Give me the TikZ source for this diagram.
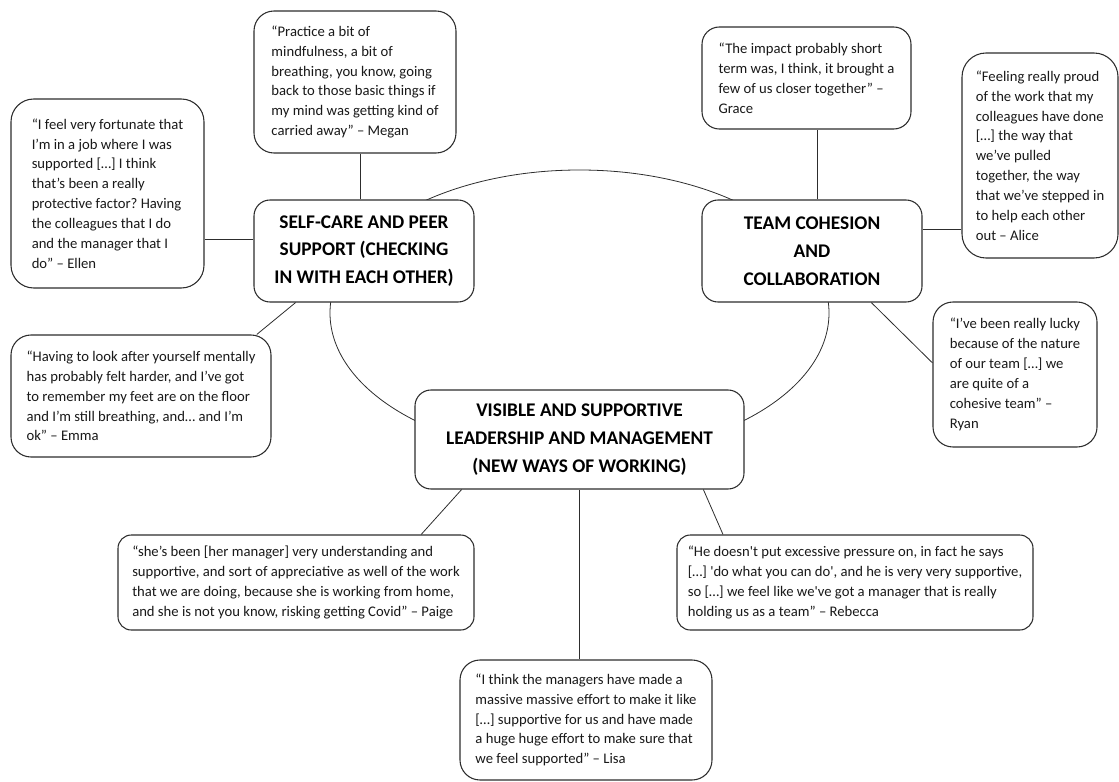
\documentclass[tikz,border=0pt]{standalone}
\usepackage{fontspec}
\setmainfont{Carlito}
\usepackage{tikz}
\usetikzlibrary{shapes.geometric,positioning}
\definecolor{boxLine}{RGB}{45,45,45}
\definecolor{quoteText}{RGB}{25,25,25}
\frenchspacing

\begin{document}
\begin{tikzpicture}[
    every node/.style={font=\fontsize{11}{14.9}\selectfont},
    quote/.style={rectangle, rounded corners=15pt, draw=boxLine, line width=0.8pt,
        fill=white, align=left, inner sep=0pt, text=quoteText},
    theme/.style={rectangle, rounded corners=12pt, draw=boxLine, line width=0.8pt,
        fill=white, align=center, inner sep=0pt, font=\fontsize{14.5}{20.8}\selectfont\bfseries},
    link/.style={draw=boxLine, line width=0.6pt},
    x=0.75pt, y=-0.75pt,
    ]
    \useasboundingbox (0,0) rectangle (1119,781);
    % ring behind the three themes
    \node[draw=boxLine, line width=0.6pt, ellipse, inner sep=0pt, minimum width=374.25pt,
        minimum height=214.5pt] (ring) at (579.5,313) {};
    % Themes
    \node[theme, minimum width=165pt, minimum height=76.5pt] (sc) at (364,251)
        {SELF-CARE AND PEER\\SUPPORT (CHECKING\\IN WITH EACH OTHER)};
    \node[theme, minimum width=165pt, minimum height=76.5pt] (tc) at (812,251)
        {TEAM COHESION\\AND\\COLLABORATION};
    \node[theme, minimum width=246.75pt, minimum height=74.25pt] (lm) at (579.5,439.5)
        {VISIBLE AND SUPPORTIVE\\LEADERSHIP AND MANAGEMENT\\(NEW WAYS OF WORKING)};
    % Quotes, self-care
    \node[quote, minimum width=151.5pt, minimum height=106.5pt] (megan) at (355,82)
        {“Practice a bit of\\mindfulness, a bit of\\breathing, you know, going\\back to those basic things if\\my mind was getting kind of\\carried away” – Megan};
    \node[quote, rounded corners=17pt, minimum width=144.75pt, minimum height=141.75pt] (ellen) at (107.5,193.5)
        {“I feel very fortunate that\\I’m in a job where I was\\supported […] I think\\that’s been a really\\protective factor? Having\\the colleagues that I do\\and the manager that I\\do” – Ellen};
    \node[quote, minimum width=195pt, minimum height=91.5pt] (emma) at (141,396)
        {“Having to look after yourself mentally\\has probably felt harder, and I’ve got\\to remember my feet are on the floor\\and I’m still breathing, and… and I’m\\ok” – Emma};
    % Quotes, team
    \node[quote, rounded corners=13pt, minimum width=156.75pt, minimum height=76.5pt] (grace) at (806.5,78)
        {“The impact probably short\\term was, I think, it brought a\\few of us closer together” –\\Grace};
    \node[quote, rounded corners=18pt, minimum width=117pt, minimum height=153.75pt] (alice) at (1040,155.5)
        {“Feeling really proud\\of the work that my\\colleagues have done\\{}[…] the way that\\we’ve pulled\\together, the way\\that we’ve stepped in\\to help each other\\out – Alice};
    \node[quote, minimum width=123pt, minimum height=108.75pt] (ryan) at (1015,374.5)
        {“I’ve been really lucky\\because of the nature\\of our team […] we\\are quite of a\\cohesive team” –\\Ryan};
    % Quotes, leadership
    \node[quote, rounded corners=10pt, minimum width=267pt, minimum height=71.25pt] (paige) at (296,582.5)
        {“she’s been [her manager] very understanding and\\supportive, and sort of appreciative as well of the work\\that we are doing, because she is working from home,\\and she is not you know, risking getting Covid” – Paige};
    \node[quote, rounded corners=10pt, minimum width=267pt, minimum height=71.25pt] (rebecca) at (855,582.5)
        {“He doesn\textquotesingle t put excessive pressure on, in fact he says\\{}[…] \textquotesingle do what you can do\textquotesingle, and he is very very supportive,\\so […] we feel like we\textquotesingle ve got a manager that is really\\holding us as a team” – Rebecca};
    \node[quote, minimum width=189pt, minimum height=90pt] (lisa) at (586,720)
        {“I think the managers have made a\\massive massive effort to make it like\\{}[…] supportive for us and have made\\a huge huge effort to make sure that\\we feel supported” – Lisa};
    % Links
    \draw[link] (sc.94) -- (sc.94 |- megan.south);
    \draw[link] (sc.174) -- (sc.174 -| ellen.east);
    \draw[link] (sc.217) -- (emma.28);
    \draw[link] (tc.84) -- (tc.84 |- grace.south);
    \draw[link] (tc.11) -- (tc.11 -| alice.west);
    \draw[link] (tc.319) -- (ryan.172);
    \draw[link] (lm.203) -- (paige.21);
    \draw[link] (lm.south) -- (lm.south |- lisa.north);
    \draw[link] (lm.338) -- (rebecca.160);
\end{tikzpicture}
\end{document}
